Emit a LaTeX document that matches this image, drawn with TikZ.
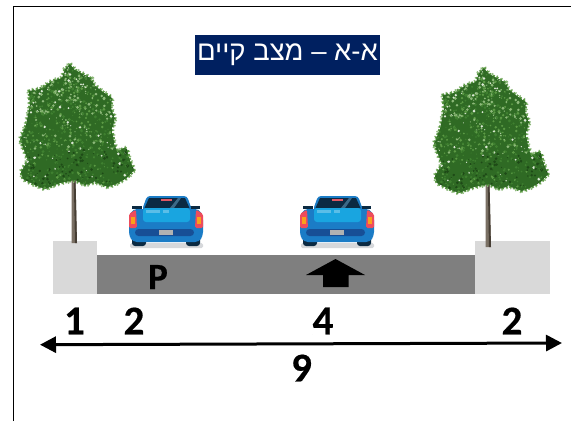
\documentclass[tikz,border=0pt]{standalone}
\usepackage{fontspec}
\usetikzlibrary{arrows.meta}
\setmainfont{Carlito}[BoldFeatures={FakeBold=0.4}]
\newfontfamily\hebfont[Script=Hebrew]{Liberation Sans}
\TeXXeTstate=1
\definecolor{titlebg}{HTML}{002060}
\definecolor{curbgray}{HTML}{D9D9D9}
\definecolor{roadgray}{HTML}{7F7F7F}
\definecolor{tc0}{HTML}{1E4A17}
\definecolor{tc1}{HTML}{2F6A24}
\definecolor{tc2}{HTML}{3F8030}
\definecolor{tc3}{HTML}{5C9A45}
\definecolor{tc4}{HTML}{8DB97A}
\definecolor{tc5}{HTML}{DCE8D6}
\definecolor{carblue}{HTML}{1B7CC6}
\definecolor{carlight}{HTML}{19A5E0}
\definecolor{cardark}{HTML}{174F96}
\definecolor{carwin}{HTML}{0B2A42}
\definecolor{carred}{HTML}{EE4C5C}
\definecolor{carorange}{HTML}{F9A11B}
\tikzset{
  framestroke/.style={draw=black,line width=1.8pt},
  digit/.style={font=\bfseries\fontsize{41}{41}\selectfont,inner sep=0pt,text=black},
  parklabel/.style={font=\bfseries\fontsize{37}{37}\selectfont,inner sep=0pt,text=black},
  titlebox/.style={fill=titlebg,text=white,minimum width=185pt,minimum height=40pt,inner sep=0pt,font=\hebfont\fontsize{27.5}{27.5}\selectfont},
  dimline/.style={draw=black,line width=3pt,{Triangle[length=16pt,width=16pt]}-{Triangle[length=16pt,width=16pt]}},
}
\newcommand{\treeoutline}{(70,64) -- (75,70) -- (85,75) -- (92,79) -- (94,85) -- (103,92) -- (112,98) -- (111,108) -- (115,118) -- (112,130) -- (114,142) -- (117,152) -- (124,148) -- (127,149) -- (129,158) -- (134,170) -- (128,177) -- (118,183) -- (108,187) -- (95,182) -- (85,185) -- (75,180) -- (60,183) -- (45,189) -- (35,185) -- (23,179) -- (21,172) -- (28,160) -- (20,140) -- (26,125) -- (30,105) -- (29,91) -- (40,89) -- (52,81) -- (62,78) -- (65,69) -- cycle}
\newcommand{\drawtree}[3]{%
  \begin{scope}[shift={(#1,#2)}]
    \pgfmathsetseed{#3}
    \fill[color={rgb,255:red,122;green,112;blue,100}] (71.5,178) -- (75.5,178) -- (77,243) -- (71.5,243) -- cycle;
    \fill[color={rgb,255:red,70;green,62;blue,52}] (73.8,178) -- (75.5,178) -- (77,243) -- (75,243) -- cycle;
    \draw[tc4,line width=5pt,dash pattern=on 1.2pt off 4pt] \treeoutline;
    \draw[tc3,line width=3pt,dash pattern=on 2pt off 2pt] \treeoutline;
    \begin{scope}
      \clip \treeoutline;
      \fill[tc1] \treeoutline;
      \foreach \i in {1,...,1500}{%
        \pgfmathsetmacro{\px}{19+rnd*117}%
        \pgfmathsetmacro{\py}{63+rnd*128}%
        \pgfmathtruncatemacro{\lo}{\py<115 ? 2 : (\py<150 ? 1 : 0)}%
        \pgfmathtruncatemacro{\shade}{rnd<0.05 ? 5 : min(4,\lo+int(rnd*3.4))}%
        \pgfmathsetmacro{\sz}{0.5+rnd*1.1}%
        \fill[tc\shade] (\px,\py) circle[radius=\sz];%
      }
    \end{scope}
  \end{scope}}
\newcommand{\drawcar}[1]{%
  \begin{scope}[shift={(#1,0)}]
    \fill[color={rgb,255:red,214;green,216;blue,219},rounded corners=1.5pt] (130,243) rectangle (203,248);
    \fill[carwin,rounded corners=3pt] (132,236) rectangle (146,246);
    \fill[carwin,rounded corners=3pt] (186,236) rectangle (200,246);
    \fill[carwin] (132,206) rectangle (142,209);
    \fill[carwin] (190,206) rectangle (200,209);
    \fill[carblue,rounded corners=3pt] (142,210) -- (147,196) -- (187,196) -- (192,210) -- cycle;
    \fill[carwin] (144.5,208) -- (149,198) -- (185,198) -- (189.5,208) -- cycle;
    \fill[color={rgb,255:red,60;green,105;blue,135}] (170,208) -- (178,198) -- (181,198) -- (174,208) -- cycle;
    \fill[carblue,rounded corners=4pt] (129,216) -- (133,209) -- (199,209) -- (203,216) -- (203,236) -- (199,242) -- (133,242) -- (129,236) -- cycle;
    \fill[carlight,rounded corners=3pt] (143,208) rectangle (190,222);
    \fill[color={rgb,255:red,90;green,190;blue,232}] (146,210) rectangle (160,212.5);
    \fill[color={rgb,255:red,90;green,190;blue,232}] (163,210) rectangle (169,212.5);
    \fill[cardark,rounded corners=3.5pt] (135,229) rectangle (194,236);
    \fill[color={rgb,255:red,176;green,178;blue,178}] (159,230) rectangle (173,235);
    \fill[color={rgb,255:red,224;green,88;blue,100}] (161,198.5) rectangle (172,200.5);
    \fill[carred,rounded corners=1.5pt] (129,228) -- (129,214) -- (136,209.5) -- (137,228) -- cycle;
    \fill[carred,rounded corners=1.5pt] (203,228) -- (203,214) -- (196,209.5) -- (195,228) -- cycle;
    \fill[carorange] (131,216.5) rectangle (135,224);
    \fill[carorange] (197,216.5) rectangle (201,224);
  \end{scope}}
\begin{document}
\begin{tikzpicture}[x=1pt,y=-1pt]
  \useasboundingbox (0,0) rectangle (571,421);
  \fill[white] (0,0) rectangle (571,421);
  \coordinate (frameBL) at (13.5,421);
  \coordinate (frameTL) at (13.5,6.5);
  \coordinate (frameTR) at (571,6.5);
  \draw[framestroke] (frameBL) -- (frameTL) -- (frameTR);
  \node[titlebox] (title) at (287.5,55) {\beginR א-א – מצב קיים\endR};
  \fill[curbgray] (53,241) rectangle (97,294);
  \fill[curbgray] (475,241) rectangle (550,294);
  \fill[roadgray] (97,255) rectangle (475,294);
  \drawtree{0}{0}{11}
  \drawtree{414}{4}{11}
  \drawcar{0}
  \drawcar{171}
  \fill[black] (335.5,259) -- (365,275) -- (348.5,275) -- (348.5,287) -- (323,287) -- (323,275) -- (306,275) -- cycle;
  \node[parklabel] (p) at (158,277) {P};
  \node[digit] (d1) at (74.5,321) {1};
  \node[digit] (d2) at (134,321) {2};
  \node[digit] (d4) at (323,321) {4};
  \node[digit] (d2b) at (512,321) {2};
  \node[digit] (d9) at (301.5,368) {9};
  \coordinate (dimL) at (40,344.7);
  \coordinate (dimR) at (562,343);
  \draw[dimline] (dimL) -- (dimR);
\end{tikzpicture}
\end{document}
